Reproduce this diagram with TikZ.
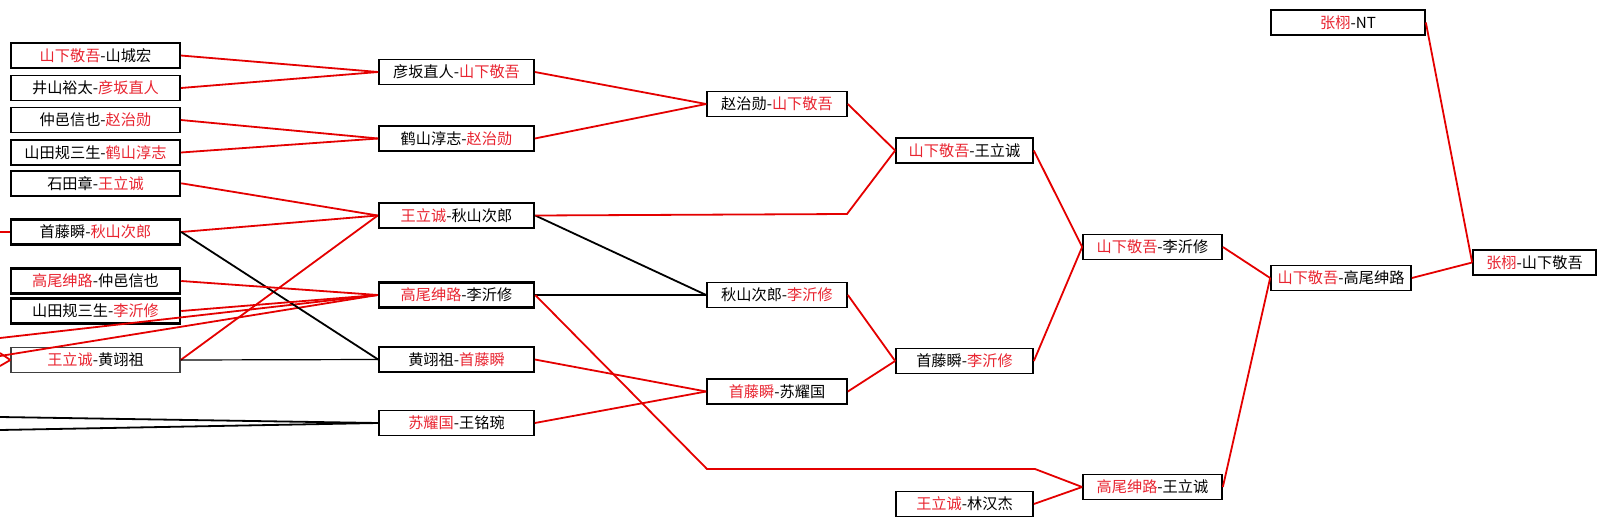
\documentclass[tikz,border=0pt]{standalone}
\usepackage{fontspec}
\setmainfont{Noto Sans CJK SC}
\definecolor{lr}{RGB}{228,0,0}
\definecolor{tr}{RGB}{232,36,48}
\newcommand\rt[1]{\textcolor{tr}{#1}}
\begin{document}
\begin{tikzpicture}[x=1pt,y=-1pt,
  box/.style={draw, line width=1.7pt, minimum height=25pt, inner sep=0pt,
    font=\fontsize{15.2}{16}\selectfont},
  bx/.style={line width=2.5pt},
  thn/.style={line width=1.3pt, draw=black!75},
  k1/.style={box, minimum width=169pt},
  k2/.style={box, minimum width=155pt},
  k3/.style={box, minimum width=140pt},
  k4/.style={box, minimum width=137pt},
  k5/.style={box, minimum width=139pt},
  k7/.style={box, minimum width=123pt},
  k8/.style={box, minimum width=154pt},
  rl/.style={draw=lr, line width=1.8pt},
  bl/.style={draw=black, line width=1.8pt},
  bt/.style={draw=black, line width=1.2pt}]
\useasboundingbox (0,0) rectangle (1607,525);
% column 1
\node[k1] (a1) at (95.5,55.5) {\rt{山下敬吾}-山城宏};
\node[k1] (a2) at (95.5,88) {井山裕太-\rt{彦坂直人}};
\node[k1] (a3) at (95.5,120) {仲邑信也-\rt{赵治勋}};
\node[k1] (a4) at (95.5,152.5) {山田规三生-\rt{鹤山淳志}};
\node[k1,bx] (a5) at (95.5,183.3) {石田章-\rt{王立诚}};
\node[k1,bx] (a6) at (95.5,232) {首藤瞬-\rt{秋山次郎}};
\node[k1,bx] (a7) at (95.5,281) {\rt{高尾绅路}-仲邑信也};
\node[k1,bx] (a8) at (95.5,311) {山田规三生-\rt{李沂修}};
\node[k1,thn] (a9) at (95.5,360) {\rt{王立诚}-黄翊祖};
% column 2
\node[k2] (b1) at (456.5,72) {彦坂直人-\rt{山下敬吾}};
\node[k2] (b2) at (456.5,138.5) {鹤山淳志-\rt{赵治勋}};
\node[k2,bx] (b3) at (456.5,215.5) {\rt{王立诚}-秋山次郎};
\node[k2,bx] (b4) at (456.5,295) {\rt{高尾绅路}-李沂修};
\node[k2] (b5) at (456.5,359.5) {黄翊祖-\rt{首藤瞬}};
\node[k2] (b6) at (456.5,423) {\rt{苏耀国}-王铭琬};
% column 3
\node[k3] (c1) at (777,104) {赵治勋-\rt{山下敬吾}};
\node[k3] (c2) at (777,295) {秋山次郎-\rt{李沂修}};
\node[k3] (c3) at (777,391.5) {\rt{首藤瞬}-苏耀国};
% column 4
\node[k4] (d1) at (964.5,150.5) {\rt{山下敬吾}-王立诚};
\node[k4] (d2) at (964.5,361) {首藤瞬-\rt{李沂修}};
\node[k4] (d3) at (964.5,504) {\rt{王立诚}-林汉杰};
% column 5
\node[k5] (e1) at (1152.5,247) {\rt{山下敬吾}-李沂修};
\node[k5] (e2) at (1152.5,487) {\rt{高尾绅路}-王立诚};
% column 6, 7
\node[k3] (f1) at (1341,278) {\rt{山下敬吾}-高尾绅路};
\node[k7] (g1) at (1534.5,262.5) {\rt{张栩}-山下敬吾};
\node[k8] (g0) at (1348,22.5) {\rt{张栩}-NT};
% free ends
\coordinate (l1) at (0,232);
\coordinate (l2) at (0,338);
\coordinate (l3) at (0,356);
\coordinate (l4) at (0,353);
\coordinate (l5) at (0,366);
\coordinate (l6) at (0,417);
\coordinate (l7) at (0,430);
\coordinate (p1) at (847,214);
\coordinate (p2) at (707,469);
\coordinate (p3) at (1035,469);
% connectors
\draw[rl] (l1) -- (a6.west);
\draw[rl] (l2) -- (b4.west);
\draw[rl] (l3) -- (b4.west);
\draw[rl] (l4) -- (a9.west);
\draw[rl] (l5) -- (a9.west);
\draw[bl] (l6) -- (b6.west);
\draw[bl] (l7) -- (b6.west);
\draw[rl] (a1.east) -- (b1.west);
\draw[rl] (a2.east) -- (b1.west);
\draw[rl] (a3.east) -- (b2.west);
\draw[rl] (a4.east) -- (b2.west);
\draw[rl] (a5.east) -- (b3.west);
\draw[rl] (a6.east) -- (b3.west);
\draw[rl] (a9.east) -- (b3.west);
\draw[bl] (a6.east) -- (b5.west);
\draw[bt] (a9.east) -- (b5.west);
\draw[rl] (a7.east) -- (b4.west);
\draw[rl] (a8.east) -- (b4.west);
\draw[rl] (b1.east) -- (c1.west);
\draw[rl] (b2.east) -- (c1.west);
\draw[bl] (b3.east) -- (c2.west);
\draw[bl] (b4.east) -- (c2.west);
\draw[rl] (b5.east) -- (c3.west);
\draw[rl] (b6.east) -- (c3.west);
\draw[rl] (b3.east) -- (p1) -- (d1.west);
\draw[rl] (b4.east) -- (p2) -- (p3) -- (e2.west);
\draw[rl] (c1.east) -- (d1.west);
\draw[rl] (c2.east) -- (d2.west);
\draw[rl] (c3.east) -- (d2.west);
\draw[rl] (d3.east) -- (e2.west);
\draw[rl] (d1.east) -- (e1.west);
\draw[rl] (d2.east) -- (e1.west);
\draw[rl] (e1.east) -- (f1.west);
\draw[rl] (e2.east) -- (f1.west);
\draw[rl] (f1.east) -- (g1.west);
\draw[rl] (g0.east) -- (g1.west);
\end{tikzpicture}
\end{document}
